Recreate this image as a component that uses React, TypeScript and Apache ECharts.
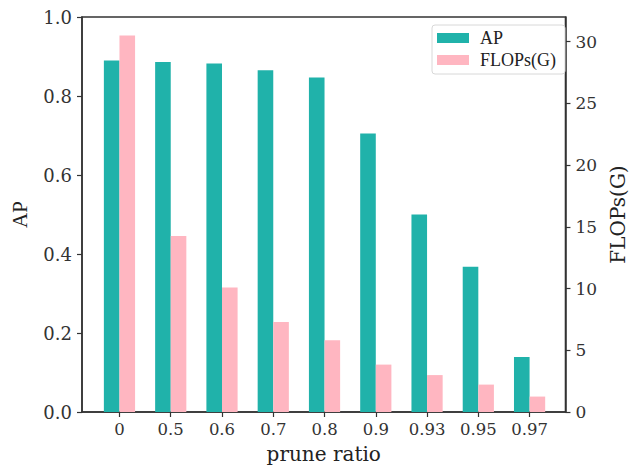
import React, { useEffect, useRef } from "react";
import * as echarts from "echarts";

const categories = ["0", "0.5", "0.6", "0.7", "0.8", "0.9", "0.93", "0.95", "0.97"];
const apValues = [0.89, 0.886, 0.882, 0.865, 0.847, 0.705, 0.5, 0.368, 0.139];
const flopsValues = [30.5, 14.26, 10.08, 7.29, 5.81, 3.84, 2.99, 2.22, 1.25];
const apTicks = [0, 0.2, 0.4, 0.6, 0.8, 1.0];
const flopsTicks = [0, 5, 10, 15, 20, 25, 30];

const TEAL = "#20B2AA";
const PINK = "#FFB6C1";
const AXIS = "#333333";
const SERIF = "DejaVu Serif";
const TIMES = "Liberation Serif";

export default function App() {
  const ref = useRef<HTMLDivElement>(null);
  useEffect(() => {
    if (!ref.current) return;
    const chart = echarts.init(ref.current, undefined, { renderer: "svg" });
    const idx = categories.map((_, i) => i);
    chart.setOption({
      animation: false,
      backgroundColor: "#ffffff",
      grid: {
        left: 82,
        right: 64,
        top: 17,
        bottom: 57,
        show: true,
        borderColor: AXIS,
        borderWidth: 1.5,
        containLabel: false,
      },
      legend: {
        orient: "vertical",
        left: 432,
        top: 25,
        padding: [4, 9, 5, 5],
        itemGap: 4,
        itemWidth: 32,
        itemHeight: 10,
        icon: "rect",
        borderColor: "#d8d8d8",
        borderWidth: 1,
        borderRadius: 3,
        backgroundColor: "#ffffff",
        textStyle: {
          fontFamily: TIMES,
          fontSize: 18,
          color: "#222",
          padding: [0, 0, 0, 6],
        },
        data: ["AP", "FLOPs(G)"],
      },
      xAxis: {
        type: "value",
        min: -0.731,
        max: 8.7,
        splitLine: { show: false },
        axisLine: { show: true, onZero: false, lineStyle: { color: AXIS, width: 1.5 } },
        axisTick: {
          show: true,
          length: 5,
          lineStyle: { color: AXIS, width: 1.2 },
          customValues: idx,
        },
        axisLabel: {
          customValues: idx,
          margin: 9,
          fontFamily: SERIF,
          fontSize: 16.5,
          color: "#333",
          formatter: (v: number) => categories[Math.round(v)] ?? "",
        },
        name: "prune ratio",
        nameLocation: "middle",
        nameGap: 32,
        nameTextStyle: { fontFamily: SERIF, fontSize: 20, color: "#222" },
      },
      yAxis: [
        {
          type: "value",
          min: 0,
          max: 1,
          position: "left",
          splitLine: { show: false },
          axisLine: { show: true, onZero: false, lineStyle: { color: AXIS, width: 1.5 } },
          axisTick: {
            show: true,
            length: 5,
            lineStyle: { color: AXIS, width: 1.2 },
            customValues: apTicks,
          },
          axisLabel: {
            customValues: apTicks,
            margin: 10,
            fontFamily: SERIF,
            fontSize: 18,
            color: "#333",
            formatter: (v: number) => v.toFixed(1),
          },
          name: "AP",
          nameLocation: "middle",
          nameRotate: 90,
          nameGap: 52,
          nameTextStyle: { fontFamily: TIMES, fontSize: 21, color: "#222" },
        },
        {
          type: "value",
          min: 0,
          max: 32,
          position: "right",
          splitLine: { show: false },
          axisLine: { show: true, onZero: false, lineStyle: { color: AXIS, width: 1.5 } },
          axisTick: {
            show: true,
            length: 5,
            lineStyle: { color: AXIS, width: 1.2 },
            customValues: flopsTicks,
          },
          axisLabel: {
            customValues: flopsTicks,
            margin: 10,
            fontFamily: SERIF,
            fontSize: 17,
            color: "#333",
            formatter: (v: number) => String(v),
          },
          name: "FLOPs(G)",
          nameLocation: "middle",
          nameRotate: 90,
          nameGap: 31,
          nameTextStyle: { fontFamily: SERIF, fontSize: 20, color: "#222" },
        },
      ],
      series: [
        {
          name: "AP",
          type: "bar",
          xAxisIndex: 0,
          yAxisIndex: 0,
          barWidth: 15.6,
          barGap: "0%",
          itemStyle: { color: TEAL },
          data: apValues.map((v, i) => [i, v]),
        },
        {
          name: "FLOPs(G)",
          type: "bar",
          xAxisIndex: 0,
          yAxisIndex: 1,
          barWidth: 15.6,
          barGap: "0%",
          itemStyle: { color: PINK },
          data: flopsValues.map((v, i) => [i, v]),
        },
      ],
    });
    return () => chart.dispose();
  }, []);
  return (
    <div
      ref={ref}
      style={{ position: "fixed", left: 0, top: 0, width: 636, height: 469 }}
    />
  );
}
